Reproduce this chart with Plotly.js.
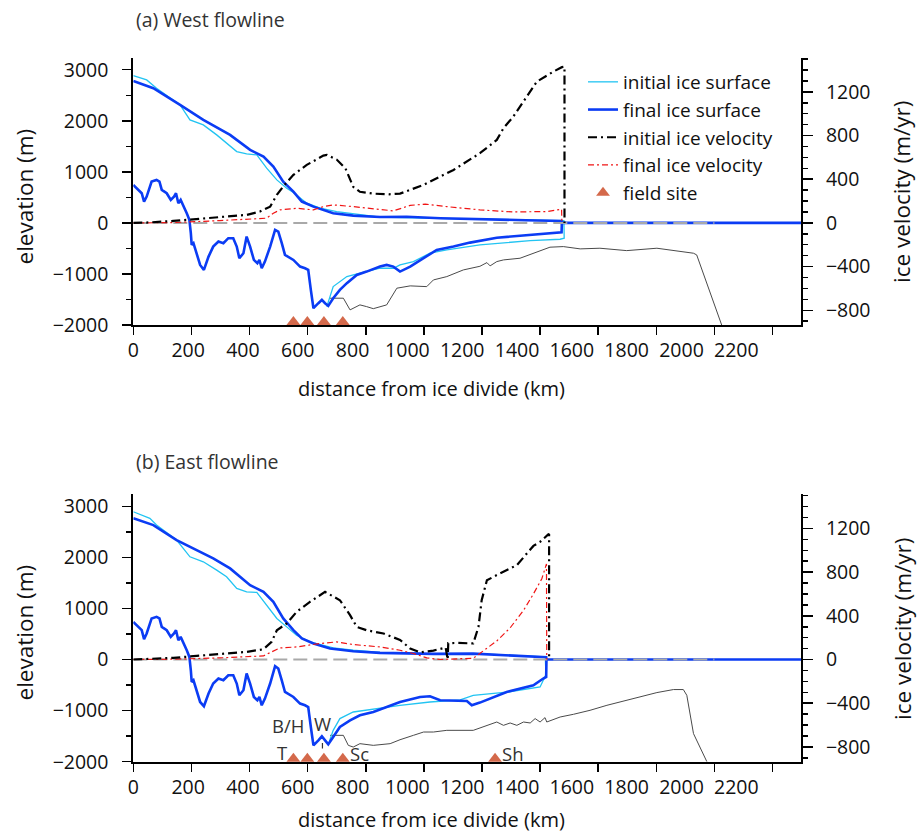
<!DOCTYPE html>
<html><head><meta charset="utf-8">
<script src="https://cdn.plot.ly/plotly-3.0.1.min.js"></script>
<style>html,body{margin:0;padding:0;background:#fff}</style>
</head><body><div id="chart" style="width:923px;height:835px"></div>
<script>
// ---------- axis ticks ----------
const xTickVals = [0,200,400,600,800,1000,1200,1400,1600,1800,2000,2200];
const xTickLabels = ['0','200','400','600','800','1000','1200','1400','1600','1800','2000','2200'];

// ---------- (a) West flowline ----------
const westInitGeomKm = [0,46,80,161,195,241,287,321,356,390,425,459,494,528,551,597,643,700,850,1000,1200,1350,1482,
  1483,1469,1366,1193,1079,1021,964,918,895,849,780,735,688,666];
const westInitGeomM = [2886,2801,2639,2312,2018,1920,1724,1561,1397,1352,1332,1072,842,680,594,386,288,221,115,95,72,57,45,
  -300,-320,-347,-431,-529,-594,-758,-823,-888,-888,-985,-1051,-1247,-1640];

const westFinalSurfKm = [0,69,161,241,333,402,448,482,516,551,580,620,688,757,849,941,1057,1200,1350,1474,1475,2298];
const westFinalSurfM  = [2780,2639,2312,2018,1724,1430,1299,1103,809,613,418,319,190,143,115,120,92,68,52,38,0,0];

const westFinalBaseKm = [0,17,29,37,46,63,80,90,98,115,129,140,147,155,163,184,193,198,201,207,
  218,230,243,259,275,293,310,327,344,356,365,379,390,402,415,427,434,442,453,471,
  488,499,511,522,551,574,591,602,611,620,637,649,660,671,688,711,735,769,803,849,
  872,895,918,953,999,1044,1102,1159,1251,1366,1474,1475];
const westFinalBaseM = [744,646,581,418,515,809,842,809,646,581,450,515,581,386,450,190,59,-202,-431,-398,
  -594,-823,-921,-660,-464,-366,-398,-300,-300,-464,-692,-594,-268,-464,-725,-790,-725,-888,-758,-464,
  -137,-170,-398,-627,-725,-856,-888,-921,-1313,-1671,-1573,-1508,-1573,-1626,-1475,-1313,-1181,-1019,-954,-856,
  -823,-856,-954,-856,-692,-529,-464,-386,-290,-235,-182,0];

const westSeafloorKm = [677,723,746,780,803,826,872,907,953,1010,1033,1079,1136,1193,1217,1228,1251,1274,1331,1377,
  1434,1480,1538,1606,1698,1802,1859,1928,1939,1974,1997,2025];
const westSeafloorM = [-1475,-1475,-1704,-1606,-1640,-1680,-1606,-1279,-1234,-1248,-1117,-1052,-921,-850,-778,-842,-758,-725,-692,-600,
  -476,-464,-509,-496,-543,-496,-543,-594,-627,-1181,-1573,-2000];

const westVelInitKm = [0,46,138,218,298,390,436,471,494,516,551,597,654,666,700,730,757,780,826,880,
  918,999,1102,1193,1251,1274,1308,1354,1389,1446,1475,1484,1484];
const westVelInit = [0,3,18,37,52,73,104,149,256,333,440,531,616,623,580,500,330,285,268,262,
  268,348,485,638,760,867,974,1157,1294,1386,1426,1430,0];

const westVelFinalKm = [0,138,298,413,459,482,505,562,620,654,688,757,849,895,953,1005,1079,1193,1309,1423,1474,1475];
const westVelFinal   = [0,3,21,37,43,89,119,134,119,149,165,149,122,110,160,172,149,119,100,104,125,0];

const westSiteKm = [551,599,656,721];
const westSiteM  = [-1940,-1940,-1940,-1940];

// ---------- (b) East flowline ----------
const eastInitGeomKm = [0,57,80,149,195,241,287,321,356,390,425,459,494,528,562,608,688,757,849,1000,1200,1418,
  1420,1411,1400,1285,1216,1170,1125,1021,918,803,757,711,688,675];
const eastInitGeomM = [2893,2764,2632,2338,2011,1913,1750,1619,1392,1325,1313,1064,804,639,476,345,227,182,140,115,110,50,
  -300,-406,-537,-640,-680,-700,-790,-831,-896,-980,-1027,-1156,-1386,-1600];

const eastFinalSurfKm = [0,69,149,207,275,333,402,448,482,516,551,580,620,677,757,849,918,1033,1170,1308,1421,1422,2298];
const eastFinalSurfM  = [2764,2632,2338,2176,1980,1784,1456,1325,1129,804,574,412,314,216,163,130,118,110,115,84,45,0,0];

const eastFinalBaseKm = [0,17,29,37,46,63,80,90,98,115,129,140,147,155,163,184,193,198,201,207,
  218,230,243,259,275,293,310,327,344,356,365,379,390,402,415,427,434,442,453,471,
  488,499,511,522,551,574,591,602,611,620,637,649,660,671,688,711,746,780,826,872,
  918,987,1021,1056,1148,1165,1193,1285,1377,1411,1421,1422];
const eastFinalBaseM = [737,639,574,398,510,804,835,804,639,574,443,510,574,378,443,182,51,-210,-439,-406,
  -602,-831,-915,-666,-470,-372,-406,-308,-308,-470,-700,-602,-274,-470,-733,-798,-733,-896,-764,-470,
  -131,-176,-406,-635,-733,-862,-896,-929,-1321,-1680,-1582,-1503,-1582,-1660,-1517,-1321,-1190,-1092,-1027,-929,
  -831,-733,-719,-798,-811,-896,-843,-635,-503,-372,-340,0];

const eastSeafloorKm = [677,723,740,757,780,826,884,918,964,999,1033,1079,1170,1205,1228,1251,1274,1297,1320,1343,
  1366,1383,1400,1417,1423,1469,1515,1572,1630,1675,1744,1802,1859,1893,1905,1928,1974];
const eastSeafloorM = [-1484,-1484,-1680,-1713,-1647,-1680,-1647,-1570,-1484,-1419,-1419,-1386,-1386,-1321,-1268,-1223,-1288,-1242,-1288,-1223,
  -1242,-1156,-1223,-1137,-1223,-1125,-1072,-994,-896,-831,-733,-647,-588,-588,-700,-1450,-2000];

const eastVelInitKm = [0,46,138,218,298,390,448,476,494,528,562,608,660,711,746,769,803,861,918,953,
  987,1033,1075,1082,1084,1113,1170,1188,1199,1217,1262,1320,1377,1400,1428,1431,1431];
const eastVelInit = [0,3,15,33,49,70,94,161,268,330,436,528,619,543,406,299,268,238,180,100,
  65,82,110,0,150,152,147,299,543,726,788,864,1040,1077,1145,1150,0];

const eastVelFinalKm = [0,138,298,448,476,505,562,643,700,757,849,918,964,1010,1056,1148,1170,1205,1251,1297,1343,1377,1406,1422,1423];
const eastVelFinal   = [0,3,15,33,70,106,115,147,161,137,115,85,55,15,0,5,12,80,170,290,450,600,740,875,0];

const eastSiteKm = [551,599,656,721,1245];
const eastSiteM  = [-1940,-1940,-1940,-1940,-1940];
const eastSiteNames = ['T','B/H','W','Sc','Sh'];

// sea level reference
const seaLevelKm = [0,2000];
const seaLevelM  = [0,0];

// ---------- styles ----------
const FONT = '"Open Sans", "Noto Sans", sans-serif';
const C_INIT_SURF = '#22c4f2';
const C_FINAL_SURF = '#0b3cf4';
const C_SEAFLOOR = '#4a4a4a';
const C_SEA = '#a9a9a9';
const C_VEL_INIT = '#000000';
const C_VEL_FINAL = '#f01414';
const C_SITE = '#d4694b';

function ln(x, y, xa, ya, color, width, dash, name, legend, rank) {
  return {type:'scatter', mode:'lines', x:x, y:y, xaxis:xa, yaxis:ya,
    line:{color:color, width:width, dash:dash||'solid'},
    name:name||'', showlegend:!!legend, legendrank:rank||1000, hoverinfo:'skip', cliponaxis:true};
}

const traces = [];
function panel(p) {
  const xa = p.xa, ya = p.ya, ya2 = p.ya2, lg = p.legend;
  traces.push(ln(p.seaX, p.seaY, xa, ya, C_SEAFLOOR, 1, 'solid', 'seafloor', false));
  traces.push(ln(p.initX, p.initY, xa, ya, C_INIT_SURF, 1.3, 'solid', 'initial ice surface', lg, 1));
  traces.push(ln(p.baseX, p.baseY, xa, ya, C_FINAL_SURF, 2.6, 'solid', 'final ice base', false));
  traces.push(ln(p.surfX, p.surfY, xa, ya, C_FINAL_SURF, 2.6, 'solid', 'final ice surface', lg, 2));
  traces.push(ln(seaLevelKm, seaLevelM, xa, ya, C_SEA, 2, '14px,6px', 'sea level', false));
  traces.push({type:'scatter', mode:'markers', x:p.siteX, y:p.siteY, xaxis:xa, yaxis:ya,
    marker:{symbol:'triangle-up', size:12, color:C_SITE}, name:'field site', showlegend:lg,
    legendrank:5, hoverinfo:'skip', cliponaxis:false});
  traces.push(ln(p.vfX, p.vfY, xa, ya2, C_VEL_FINAL, 1.2, '6px,3px,2px,3px', 'final ice velocity', lg, 4));
  traces.push(ln(p.viX, p.viY, xa, ya2, C_VEL_INIT, 2.2, '9px,4px,2px,4px', 'initial ice velocity', lg, 3));
}
panel({xa:'x', ya:'y', ya2:'y2', legend:true,
  seaX:westSeafloorKm, seaY:westSeafloorM, initX:westInitGeomKm, initY:westInitGeomM,
  baseX:westFinalBaseKm, baseY:westFinalBaseM, surfX:westFinalSurfKm, surfY:westFinalSurfM,
  siteX:westSiteKm, siteY:westSiteM, vfX:westVelFinalKm, vfY:westVelFinal, viX:westVelInitKm, viY:westVelInit});
panel({xa:'x2', ya:'y3', ya2:'y4', legend:false,
  seaX:eastSeafloorKm, seaY:eastSeafloorM, initX:eastInitGeomKm, initY:eastInitGeomM,
  baseX:eastFinalBaseKm, baseY:eastFinalBaseM, surfX:eastFinalSurfKm, surfY:eastFinalSurfM,
  siteX:eastSiteKm, siteY:eastSiteM, vfX:eastVelFinalKm, vfY:eastVelFinal, viX:eastVelInitKm, viY:eastVelInit});
// carriers for the tick-label axes
traces.push({type:'scatter', mode:'lines', x:[0], y:[null], xaxis:'x3', yaxis:'y', showlegend:false, hoverinfo:'skip'});
traces.push({type:'scatter', mode:'lines', x:[0], y:[null], xaxis:'x4', yaxis:'y3', showlegend:false, hoverinfo:'skip'});

const W = 923, H = 835;
const xDom = [133.3/W, 801/W];
const yDomA = [(H-325)/H, (H-58)/H];
const yDomB = [(H-761.7)/H, (H-494)/H];
const tickFont = {family:FONT, size:19.5, color:'#111'};

function xTickAxis(anchor) {
  return {domain:xDom, anchor:anchor, range:[0,2298], tickmode:'array', tickvals:xTickVals,
    showticklabels:false, ticks:'outside', ticklen:8, tickwidth:1.5, tickcolor:'#000',
    showline:true, linewidth:2, linecolor:'#000', showgrid:false, zeroline:false, fixedrange:true};
}
function xLabelAxis(over, anchor) {
  return {overlaying:over, anchor:anchor, side:'bottom', range:[0,2436], tickmode:'array',
    tickvals:xTickVals, ticktext:xTickLabels, ticks:'outside', ticklen:8, tickcolor:'rgba(0,0,0,0)',
    tickfont:tickFont, showline:false, showgrid:false, zeroline:false, fixedrange:true};
}
function yLeft(dom, anchor, range) {
  return {domain:dom, anchor:anchor, range:range, tickmode:'linear', tick0:0, dtick:1000,
    ticks:'outside', ticklen:9, tickwidth:1.5, tickcolor:'#000', tickfont:tickFont, ticklabelstandoff:10,
    minor:{ticks:'outside', dtick:500, tick0:0, ticklen:5, tickwidth:1.5, tickcolor:'#000', showgrid:false},
    showline:true, linewidth:2, linecolor:'#000', showgrid:false, zeroline:false, fixedrange:true};
}
function yRight(over, anchor, range) {
  return {overlaying:over, side:'right', anchor:anchor, range:range, tickmode:'linear', tick0:0, dtick:400,
    ticks:'outside', ticklen:10, tickwidth:1.5, tickcolor:'#000', tickfont:tickFont, ticklabelstandoff:9,
    minor:{ticks:'outside', dtick:100, tick0:0, ticklen:5, tickwidth:1.5, tickcolor:'#000', showgrid:false},
    showline:true, linewidth:2, linecolor:'#000', showgrid:false, zeroline:false, fixedrange:true};
}

function px2x(px){return px/W;} function px2y(py){return 1-py/H;}
const annFont = {family:FONT, size:18.5, color:'#333'};
const annotations = [
  {text:'(a) West flowline', xref:'paper', yref:'paper', x:px2x(134), y:px2y(20), xanchor:'left', yanchor:'middle', showarrow:false, font:{family:FONT, size:19.5, color:'#333'}},
  {text:'(b) East flowline', xref:'paper', yref:'paper', x:px2x(134), y:px2y(461), xanchor:'left', yanchor:'middle', showarrow:false, font:{family:FONT, size:19.5, color:'#333'}},
  {text:'distance from ice divide (km)', xref:'paper', yref:'paper', x:px2x(431.5), y:px2y(388), xanchor:'center', yanchor:'middle', showarrow:false, font:{family:FONT, size:20, color:'#111'}},
  {text:'distance from ice divide (km)', xref:'paper', yref:'paper', x:px2x(431.5), y:px2y(834), xanchor:'center', yanchor:'bottom', showarrow:false, borderpad:0, font:{family:FONT, size:20, color:'#111'}},
  {text:'elevation (m)', xref:'paper', yref:'paper', x:px2x(24), y:px2y(196.5), textangle:-90, xanchor:'center', yanchor:'middle', showarrow:false, font:{family:FONT, size:22.5, color:'#111'}},
  {text:'elevation (m)', xref:'paper', yref:'paper', x:px2x(24), y:px2y(632.5), textangle:-90, xanchor:'center', yanchor:'middle', showarrow:false, font:{family:FONT, size:22.5, color:'#111'}},
  {text:'ice velocity (m/yr)', xref:'paper', yref:'paper', x:px2x(902), y:px2y(192), textangle:-90, xanchor:'center', yanchor:'middle', showarrow:false, font:{family:FONT, size:22.5, color:'#111'}},
  {text:'ice velocity (m/yr)', xref:'paper', yref:'paper', x:px2x(902), y:px2y(629), textangle:-90, xanchor:'center', yanchor:'middle', showarrow:false, font:{family:FONT, size:22.5, color:'#111'}},
  // field site labels (panel b)
  {text:eastSiteNames[0], xref:'x2', yref:'y3', x:511, y:-1811, showarrow:false, font:annFont},
  {text:eastSiteNames[1], xref:'x2', yref:'y3', x:534, y:-1288, showarrow:false, font:annFont},
  {text:eastSiteNames[2], xref:'x2', yref:'y3', x:652, y:-1243, showarrow:false, font:annFont},
  {text:eastSiteNames[3], xref:'x2', yref:'y3', x:778, y:-1842, showarrow:false, font:annFont},
  {text:eastSiteNames[4], xref:'x2', yref:'y3', x:1308, y:-1842, showarrow:false, font:annFont},
  {text:' ', xref:'x2', yref:'y3', x:588, y:-1744, axref:'x2', ayref:'y3', ax:580, ay:-1548, showarrow:true, arrowhead:0, arrowwidth:1.2, arrowcolor:'#333', standoff:0, startstandoff:0},
  {text:' ', xref:'x2', yref:'y3', x:651, y:-1744, axref:'x2', ayref:'y3', ax:651, ay:-1439, showarrow:true, arrowhead:0, arrowwidth:1.2, arrowcolor:'#333', standoff:0, startstandoff:0}
];

const layout = {
  width:W, height:H, margin:{l:0, r:0, t:0, b:0}, paper_bgcolor:'#fff', plot_bgcolor:'rgba(0,0,0,0)',
  font:{family:FONT, color:'#111'}, hovermode:false, dragmode:false,
  showlegend:true,
  legend:{x:583/W, y:1-63/H, xanchor:'left', yanchor:'top', bgcolor:'rgba(0,0,0,0)', borderwidth:0,
    font:{family:FONT, size:19, color:'#111'}, itemwidth:30, traceorder:'normal'},
  xaxis: xTickAxis('y'),
  xaxis3: xLabelAxis('x', 'y'),
  yaxis: yLeft(yDomA, 'x', [-2000, 3230]),
  yaxis2: yRight('y', 'x', [-935, 1510]),
  xaxis2: xTickAxis('y3'),
  xaxis4: xLabelAxis('x2', 'y3'),
  yaxis3: yLeft(yDomB, 'x2', [-2000, 3240]),
  yaxis4: yRight('y3', 'x2', [-935.4, 1515.3]),
  annotations: annotations
};

Plotly.newPlot('chart', traces, layout, {displayModeBar:false, staticPlot:true});
</script></body></html>
